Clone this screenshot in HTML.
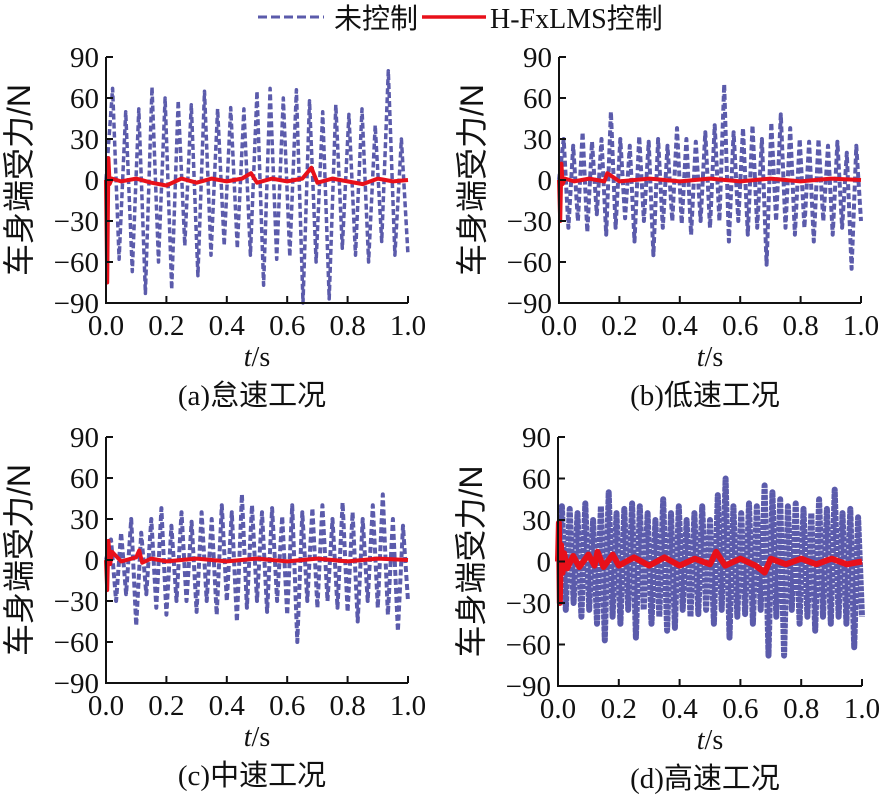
<!DOCTYPE html>
<html><head><meta charset="utf-8">
<style>
html,body{margin:0;padding:0;background:#fff;}
svg{display:block;}
text{font-family:"Liberation Serif","Noto Serif CJK SC",serif;fill:#111;}
.cjk{font-family:"Liberation Sans","Noto Sans CJK SC",sans-serif;}
</style></head>
<body>
<svg id="chart" width="894" height="796" viewBox="0 0 894 796" xmlns="http://www.w3.org/2000/svg">
  <g>
    <line x1="258" y1="17" x2="324" y2="17" stroke="#5b5bab" stroke-width="3" stroke-dasharray="9,4"/>
    <text class="cjk" x="334" y="28" font-size="28">未控制</text>
    <line x1="422" y1="17" x2="486" y2="17" stroke="#e8101a" stroke-width="3.5"/>
    <text x="490" y="28" font-size="28">H-FxLMS<tspan class="cjk">控制</tspan></text>
  </g>
</svg>
<script>
const yTicks = [90, 60, 30, 0, -30, -60, -90];
const xTicks = [0.0, 0.2, 0.4, 0.6, 0.8, 1.0];
const xTickLabels = ["0.0", "0.2", "0.4", "0.6", "0.8", "1.0"];
const yTickLabels = ["90", "60", "30", "0", "\u221230", "\u221260", "\u221290"];
const captions = ["(a)怠速工况", "(b)低速工况", "(c)中速工况", "(d)高速工况"];

const unA = [0,67,-58,50,-67,52,-83,68,-60,60,-80,58,-48,55,-70,65,-55,52,-48,53,-50,52,-55,65,-77,67,-58,60,-56,66,-90,58,-60,50,-87,55,-50,48,-55,52,-60,40,-45,80,-55,30,-55];
const ctlATimes = [0,0.004,0.008,0.012,0.02,0.05,0.1,0.15,0.2,0.25,0.3,0.35,0.4,0.45,0.48,0.5,0.55,0.6,0.65,0.68,0.7,0.75,0.8,0.85,0.9,0.95,1.0];
const ctlA = [0,-75,16,-3,1,-1,1,-2,-4,1,-2,1,-1,1,5,-2,1,-1,1,9,-2,1,-1,-3,1,-1,0];

const unB = [0,30,-35,25,-30,35,-38,28,-25,30,-40,50,-35,30,-28,25,-45,32,-30,28,-55,30,-35,25,-30,38,-32,30,-40,28,-30,35,-35,40,-30,70,-45,35,-30,38,-40,40,-35,30,-62,42,-30,48,-35,38,-40,30,-35,28,-45,30,-30,25,-40,28,-35,20,-65,25,-30];
const ctlBTimes = [0,0.004,0.008,0.012,0.02,0.05,0.1,0.15,0.16,0.2,0.3,0.4,0.5,0.6,0.7,0.8,0.9,1.0];
const ctlB = [0,-30,12,-3,1,-1,1,-1,5,-1,1,-1,1,-1,1,-1,1,0];

const unC = [0,15,-30,20,-25,30,-48,20,-25,30,-35,38,-40,25,-30,35,-30,28,-38,35,-30,30,-40,40,-30,35,-45,48,-35,40,-30,35,-38,38,-30,32,-40,40,-60,35,-30,38,-35,40,-30,30,-35,42,-38,35,-45,30,-30,40,-35,48,-40,30,-52,25,-30];
const ctlCTimes = [0,0.004,0.008,0.014,0.02,0.05,0.1,0.11,0.12,0.15,0.2,0.3,0.4,0.5,0.6,0.7,0.8,0.9,1.0];
const ctlC = [0,-22,14,-3,6,-1,2,7,-2,1,-1,1,-1,1,-1,1,-1,1,0];

const unD = [0,40,-35,38,-30,35,-40,42,-35,30,-45,40,-57,50,-40,35,-45,38,-35,42,-55,40,-35,35,-45,30,-40,45,-50,35,-48,40,-35,30,-40,35,-38,40,-35,30,-45,48,-35,60,-55,40,-40,35,-38,42,-45,40,-35,55,-68,50,-40,45,-68,40,-35,42,-45,38,-40,35,-50,45,-40,38,-45,52,-40,35,-45,38,-62,32,-40];
const ctlDTimes = [0,0.003,0.006,0.01,0.015,0.02,0.03,0.05,0.07,0.1,0.12,0.13,0.15,0.18,0.2,0.25,0.3,0.35,0.4,0.45,0.5,0.52,0.55,0.6,0.65,0.68,0.7,0.75,0.8,0.85,0.9,0.95,1.0];
const ctlD = [0,28,-30,12,-8,6,-5,4,-4,5,-3,7,-4,5,-3,3,-3,3,-3,2,-2,7,-3,2,-3,-8,2,-2,2,-2,2,-2,0];

const panels = [
  {x0:106, x1:408, yT:57,  yB:303, un:unA, ct:ctlATimes, ctl:ctlA, cap:0},
  {x0:559, x1:861, yT:57,  yB:303, un:unB, ct:ctlBTimes, ctl:ctlB, cap:1},
  {x0:106, x1:408, yT:437, yB:683, un:unC, ct:ctlCTimes, ctl:ctlC, cap:2},
  {x0:558, x1:862, yT:437, yB:686, un:unD, ct:ctlDTimes, ctl:ctlD, cap:3}
];
const NS = "http://www.w3.org/2000/svg";
const svg = document.getElementById("chart");
function mk(tag, attrs, parent){const e=document.createElementNS(NS,tag);for(const k in attrs)e.setAttribute(k,attrs[k]);parent.appendChild(e);return e;}

panels.forEach((p, pi) => {
  const letter = "abcd"[pi];
  const g = mk("g", {}, svg);
  
  
  const xs = t => p.x0 + t * (p.x1 - p.x0);
  const ys = v => p.yB - (v + 90) / 180 * (p.yB - p.yT);
  const pts = arr => arr.map((v,i) => xs(i/(arr.length-1)).toFixed(1) + "," + ys(v).toFixed(1)).join(" ");
  const ptsT = (ts, arr) => arr.map((v,i) => xs(ts[i]).toFixed(1) + "," + ys(v).toFixed(1)).join(" ");
  const dense = pi > 0;
  const un = mk("polyline", {points:pts(p.un), fill:"none", stroke:"#5b5bab", "stroke-width":pi===3?6:(dense?4:3.5), "stroke-dasharray":pi===3?"5,1":"6,3", "stroke-linejoin":"round"}, g);
  
  
  const ct = mk("polyline", {points:ptsT(p.ct, p.ctl), fill:"none", stroke:"#e8101a", "stroke-width":pi===3?6:4, "stroke-linejoin":"round"}, g);
  
  
  const ax = mk("path", {d:`M${p.x0},${p.yT} V${p.yB} H${p.x1}`, fill:"none", stroke:"#111", "stroke-width":2}, g);
  
  
  yTicks.forEach((v, i) => {
    const y = ys(v);
    mk("line", {x1:p.x0, x2:p.x0+7, y1:y, y2:y, stroke:"#111", "stroke-width":2}, g);
    const t = mk("text", {x:p.x0-7, y:y+10, "font-size":29, "text-anchor":"end"}, g);
    t.textContent = yTickLabels[i];
    
    
  });
  xTicks.forEach((v, i) => {
    const x = xs(v);
    mk("line", {x1:x, x2:x, y1:p.yB, y2:p.yB-7, stroke:"#111", "stroke-width":2}, g);
    const t = mk("text", {x:x, y:p.yB+32, "font-size":29, "text-anchor":"middle"}, g);
    t.textContent = xTickLabels[i];
    
    
  });
  const xt = mk("text", {x:(p.x0+p.x1)/2, y:p.yB+63, "font-size":28, "text-anchor":"middle"}, g);
  xt.innerHTML = '<tspan font-style="italic">t</tspan>/s';
  
  
  const cy = (p.yT+p.yB)/2;
  const yt = mk("text", {x:0, y:0, "font-size":32, "text-anchor":"middle", class:"cjk", transform:`translate(${p.x0-76},${cy}) rotate(-90)`}, g);
  yt.textContent = "车身端受力/N";
  
  
  const cp = mk("text", {x:(p.x0+p.x1)/2 - 5, y:p.yB+102, "font-size":29, "text-anchor":"middle"}, g);
  cp.innerHTML = captions[p.cap].replace(/^(\([a-d]\))(.*)$/, '$1<tspan class="cjk">$2</tspan>');
  
  
});
</script>
</body></html>
